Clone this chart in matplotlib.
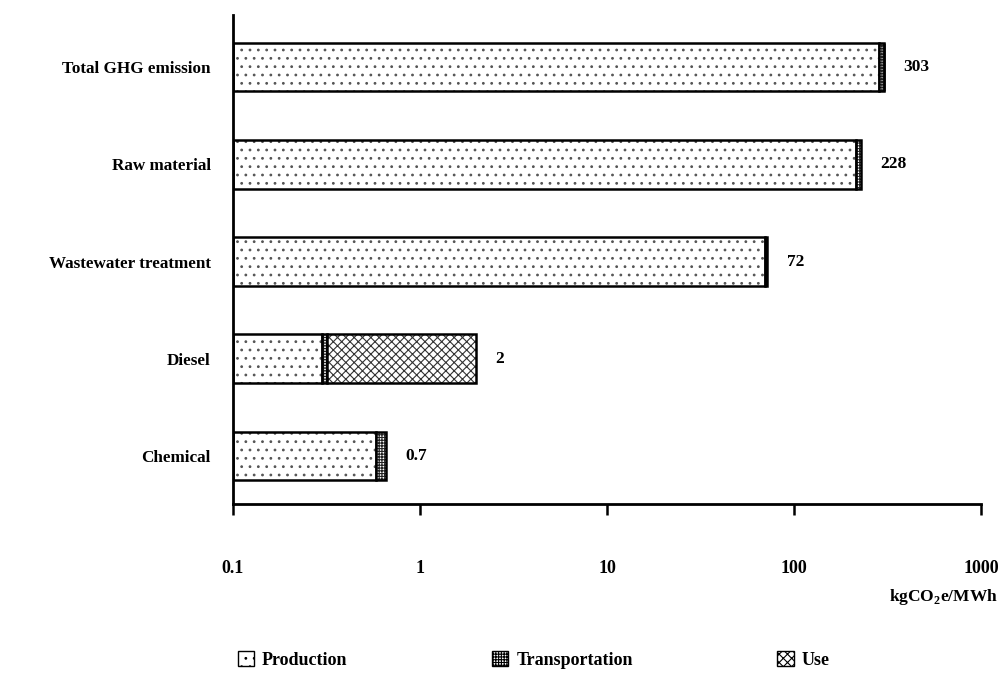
import matplotlib.pyplot as plt
from matplotlib.patches import Patch

plt.rcParams['font.family'] = ['Liberation Serif', 'DejaVu Serif']
plt.rcParams['font.weight'] = 'bold'
plt.rcParams['mathtext.fontset'] = 'custom'
plt.rcParams['mathtext.rm'] = 'Liberation Serif:bold'
plt.rcParams['mathtext.bf'] = 'Liberation Serif:bold'
plt.rcParams['hatch.linewidth'] = 0.8

# kgCO2e/MWh by stage, bottom row first
categories = ['Chemical', 'Diesel', 'Wastewater treatment', 'Raw material', 'Total GHG emission']
production = [0.58, 0.30, 70, 214, 285]
transportation = [0.08, 0.02, 2, 14, 16]
use = [0, 1.68, 0, 0, 1.7]

stage_styles = {
    'Production': dict(hatch='..', hatch_color='#555555'),
    'Transportation': dict(hatch='++++++', hatch_color='#222222'),
    'Use': dict(hatch='xxxx', hatch_color='#333333'),
}

fig = plt.figure(figsize=(10.03, 6.75), dpi=100)
ax = fig.add_axes([0.2323, 0.2533, 0.7458, 0.7244])

y = list(range(len(categories)))
height = 0.5
left = [0.0] * len(categories)
for name, vals in [('Production', production), ('Transportation', transportation), ('Use', use)]:
    st = stage_styles[name]
    for i in range(len(categories)):
        if vals[i] <= 0:
            continue
        start = left[i] if left[i] > 0 else 0.1
        end = left[i] + vals[i]
        # hatch layer, then a black outline on top
        ax.barh(y[i], end - start, left=start, height=height, color='white',
                edgecolor=st['hatch_color'], hatch=st['hatch'], linewidth=0)
        ax.barh(y[i], end - start, left=start, height=height, fill=False,
                edgecolor='black', linewidth=1.8)
    left = [left[i] + vals[i] for i in range(len(categories))]

# total value at the end of each bar
for i, total in enumerate(left):
    txt = f'{total:.1f}' if total < 1 else f'{total:.0f}'
    ax.annotate(txt, (total, y[i]), xytext=(14, 0), textcoords='offset points',
                ha='left', va='center', fontsize=12.5, fontweight='bold')

ax.set_xscale('log')
ax.set_xlim(0.1, 1000)
ax.set_ylim(-0.494, 4.535)
ax.set_xticks([0.1, 1, 10, 100, 1000])
ax.set_xticklabels(['0.1', '1', '10', '100', '1000'])
ax.minorticks_off()
ax.tick_params(axis='x', direction='out', length=8, width=1.8, pad=32, labelsize=13)
ax.set_yticks(y)
ax.set_yticklabels(categories, fontsize=12.3)
ax.tick_params(axis='y', length=0, pad=16)
for s in ['top', 'right']:
    ax.spines[s].set_visible(False)
for s in ['left', 'bottom']:
    ax.spines[s].set_linewidth(2)

fig.text(0.995, 1 - 597 / 675, r'kgCO$_\mathrm{2}$e/MWh', ha='right', va='center',
         fontsize=12.5, fontweight='bold')

handles = [Patch(facecolor='white', edgecolor='black', hatch=stage_styles[n]['hatch'], label=n)
           for n in ['Production', 'Transportation', 'Use']]
fig.legend(handles=handles, loc='center left', bbox_to_anchor=(0.228, 0.022), ncol=3,
           frameon=False, borderpad=0, handlelength=0.9, handleheight=0.9, handletextpad=0.45,
           columnspacing=8.0, prop={'size': 13, 'weight': 'bold'})

fig.savefig('out.png', dpi=100)
